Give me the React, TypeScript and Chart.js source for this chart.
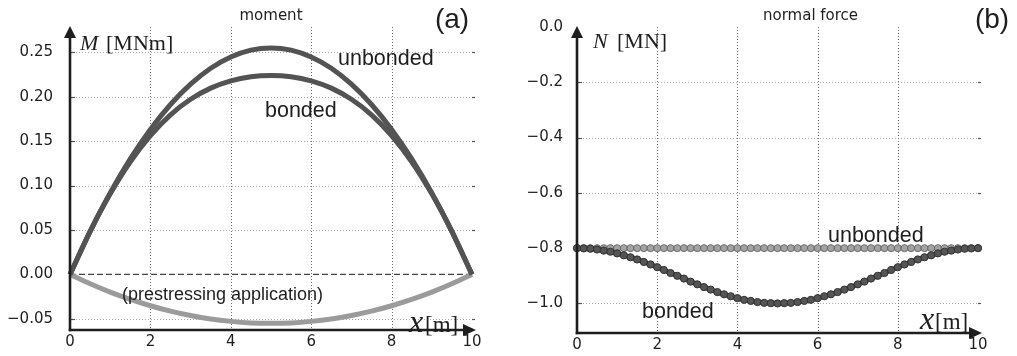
import React, { useEffect, useRef } from "react";
import { Chart, registerables } from "chart.js";

Chart.register(...registerables);

// ---------- data: moment panel (a) ----------
const momentX = [0, 0.5, 1, 1.5, 2, 2.5, 3, 3.5, 4, 4.5, 5, 5.5, 6, 6.5, 7, 7.5, 8, 8.5, 9, 9.5, 10];
const momentUnbonded = [0, 0.0485, 0.0918, 0.1301, 0.1632, 0.1913, 0.2142, 0.2321, 0.2448, 0.2525, 0.255, 0.2525, 0.2448, 0.2321, 0.2142, 0.1913, 0.1632, 0.1301, 0.0918, 0.0485, 0];
const momentBonded = [0, 0.0483, 0.0907, 0.1268, 0.1563, 0.1797, 0.1972, 0.2097, 0.2179, 0.2226, 0.224, 0.2226, 0.2179, 0.2097, 0.1972, 0.1797, 0.1563, 0.1268, 0.0907, 0.0483, 0];
const momentPrestress = [0, -0.0105, -0.0198, -0.0281, -0.0352, -0.0413, -0.0462, -0.0501, -0.0528, -0.0545, -0.055, -0.0545, -0.0528, -0.0501, -0.0462, -0.0413, -0.0352, -0.0281, -0.0198, -0.0105, 0];
const zeroLineX = [0, 10];
const zeroLineY = [0, 0];
const momentTicks = [-0.05, 0, 0.05, 0.1, 0.15, 0.2, 0.25];

// ---------- data: normal force panel (b) ----------
const forceX = [0, 0.167, 0.333, 0.5, 0.667, 0.833, 1, 1.167, 1.333, 1.5, 1.667, 1.833, 2, 2.167, 2.333, 2.5, 2.667, 2.833, 3, 3.167, 3.333, 3.5, 3.667, 3.833, 4, 4.167, 4.333, 4.5, 4.667, 4.833, 5, 5.167, 5.333, 5.5, 5.667, 5.833, 6, 6.167, 6.333, 6.5, 6.667, 6.833, 7, 7.167, 7.333, 7.5, 7.667, 7.833, 8, 8.167, 8.333, 8.5, 8.667, 8.833, 9, 9.167, 9.333, 9.5, 9.667, 9.833, 10];
const forceUnbonded = [-0.8, -0.8, -0.8, -0.8, -0.8, -0.8, -0.8, -0.8, -0.8, -0.8, -0.8, -0.8, -0.8, -0.8, -0.8, -0.8, -0.8, -0.8, -0.8, -0.8, -0.8, -0.8, -0.8, -0.8, -0.8, -0.8, -0.8, -0.8, -0.8, -0.8, -0.8, -0.8, -0.8, -0.8, -0.8, -0.8, -0.8, -0.8, -0.8, -0.8, -0.8, -0.8, -0.8, -0.8, -0.8, -0.8, -0.8, -0.8, -0.8, -0.8, -0.8, -0.8, -0.8, -0.8, -0.8, -0.8, -0.8, -0.8, -0.8, -0.8, -0.8];
const forceBonded = [-0.8, -0.801, -0.802, -0.805, -0.809, -0.813, -0.819, -0.826, -0.833, -0.841, -0.85, -0.859, -0.869, -0.879, -0.89, -0.9, -0.91, -0.921, -0.931, -0.941, -0.95, -0.959, -0.967, -0.974, -0.981, -0.987, -0.991, -0.995, -0.998, -0.999, -1.0, -0.999, -0.998, -0.995, -0.991, -0.987, -0.981, -0.974, -0.967, -0.959, -0.95, -0.941, -0.931, -0.921, -0.91, -0.9, -0.89, -0.879, -0.869, -0.859, -0.85, -0.841, -0.833, -0.826, -0.819, -0.813, -0.809, -0.805, -0.802, -0.801, -0.8];
const forceTicks = [-1.0, -0.8, -0.6, -0.4, -0.2, 0.0];

const xTicks = [0, 2, 4, 6, 8, 10];

const SANS = "'DejaVu Sans', sans-serif";
const ANNOT = "'Liberation Sans', Arial, sans-serif";
const SERIF = "'Liberation Serif', 'Times New Roman', serif";

const pts = (xs: number[], ys: number[]) => xs.map((x, i) => ({ x, y: ys[i] }));

type TextItem = { s: string; x: number; y: number; font: string; align?: CanvasTextAlign; color?: string };

function makeDecor(opts: { gridY: number[]; gridX: number[]; texts: TextItem[]; arrowExtra: number }) {
  return {
    id: "decor",
    beforeDatasetsDraw(chart: any) {
      const { ctx, chartArea: a, scales } = chart;
      const x = scales.x;
      const y = scales.y;
      ctx.save();
      ctx.lineWidth = 1;
      ctx.setLineDash([1, 2]);
      ctx.strokeStyle = "#a8a8a8";
      for (const v of opts.gridY) {
        const py = Math.round(y.getPixelForValue(v)) + 0.5;
        ctx.beginPath();
        ctx.moveTo(a.left, py);
        ctx.lineTo(a.right, py);
        ctx.stroke();
      }
      ctx.strokeStyle = "#6e6e6e";
      for (const v of opts.gridX) {
        const px = Math.round(x.getPixelForValue(v)) + 0.5;
        ctx.beginPath();
        ctx.moveTo(px, a.top);
        ctx.lineTo(px, a.bottom);
        ctx.stroke();
      }
      ctx.setLineDash([]);
      // small ticks
      ctx.strokeStyle = "#555";
      ctx.lineWidth = 1.2;
      for (const v of opts.gridY) {
        const py = Math.round(y.getPixelForValue(v)) + 0.5;
        ctx.beginPath();
        ctx.moveTo(a.right, py);
        ctx.lineTo(a.right + 3, py);
        ctx.stroke();
        ctx.beginPath();
        ctx.moveTo(a.left, py);
        ctx.lineTo(a.left + 5, py);
        ctx.stroke();
      }
      ctx.restore();
    },
    afterDatasetsDraw(chart: any) {
      const { ctx, chartArea: a } = chart;
      ctx.save();
      ctx.strokeStyle = "#1e1e1e";
      ctx.fillStyle = "#1e1e1e";
      ctx.lineWidth = 2.6;
      // y axis
      ctx.beginPath();
      ctx.moveTo(a.left, a.bottom + 1.3);
      ctx.lineTo(a.left, a.top + 8);
      ctx.stroke();
      ctx.beginPath();
      ctx.moveTo(a.left, a.top - 1);
      ctx.lineTo(a.left - 6, a.top + 11);
      ctx.lineTo(a.left + 6, a.top + 11);
      ctx.closePath();
      ctx.fill();
      // x axis
      const tip = a.right + opts.arrowExtra;
      ctx.beginPath();
      ctx.moveTo(a.left - 1.3, a.bottom);
      ctx.lineTo(tip - 8, a.bottom);
      ctx.stroke();
      ctx.beginPath();
      ctx.moveTo(tip, a.bottom);
      ctx.lineTo(tip - 13, a.bottom - 6);
      ctx.lineTo(tip - 13, a.bottom + 6);
      ctx.closePath();
      ctx.fill();
      // texts
      ctx.textBaseline = "alphabetic";
      for (const t of opts.texts) {
        ctx.font = t.font;
        ctx.fillStyle = t.color || "#1e1e1e";
        ctx.textAlign = t.align || "left";
        ctx.fillText(t.s, t.x, t.y);
      }
      ctx.restore();
    },
  };
}

function makeConfig(p: {
  datasets: any[];
  yMin: number;
  yMax: number;
  yTicks: number[];
  decimals: number;
  yWidth: number;
  yPad: number;
  padRight: number;
  decor: any;
}) {
  return {
    type: "line" as const,
    data: { datasets: p.datasets },
    options: {
      responsive: false,
      animation: false as const,
      events: [],
      layout: { padding: { left: 0, right: p.padRight, top: 27, bottom: 0 } },
      plugins: { legend: { display: false }, tooltip: { enabled: false }, title: { display: false } },
      scales: {
        x: {
          type: "linear" as const,
          min: 0,
          max: 10,
          grid: { display: false, drawTicks: false },
          border: { display: false },
          afterBuildTicks: (s: any) => {
            s.ticks = xTicks.map((v) => ({ value: v }));
          },
          afterFit: (s: any) => {
            s.height = 18;
          },
          ticks: {
            padding: 3,
            maxRotation: 0,
            autoSkip: false,
            color: "#1e1e1e",
            font: { family: SANS, size: 15 },
            callback: (v: any) => String(v),
          },
        },
        y: {
          type: "linear" as const,
          min: p.yMin,
          max: p.yMax,
          grid: { display: false, drawTicks: false },
          border: { display: false },
          afterBuildTicks: (s: any) => {
            s.ticks = p.yTicks.map((v) => ({ value: v }));
          },
          afterFit: (s: any) => {
            s.width = p.yWidth;
          },
          ticks: {
            padding: p.yPad,
            autoSkip: false,
            color: "#1e1e1e",
            font: { family: SANS, size: 15 },
            callback: (v: any) => {
              const n = Number(v);
              const r = Math.abs(n) < 1e-9 ? 0 : n;
              return (r < 0 ? "\u2212" : "") + Math.abs(r).toFixed(p.decimals);
            },
          },
        },
      },
    },
    plugins: [p.decor],
  };
}

export default function App() {
  const leftRef = useRef<HTMLCanvasElement>(null);
  const rightRef = useRef<HTMLCanvasElement>(null);

  useEffect(() => {
    const dark = "#535353";
    const leftCfg = makeConfig({
      datasets: [
        {
          data: pts(momentX, momentUnbonded),
          borderColor: dark,
          borderWidth: 5,
          pointRadius: 0,
          cubicInterpolationMode: "monotone",
          order: 1,
          clip: false,
        },
        {
          data: pts(momentX, momentBonded),
          borderColor: dark,
          borderWidth: 5,
          pointRadius: 0,
          cubicInterpolationMode: "monotone",
          order: 2,
          clip: false,
        },
        {
          data: pts(momentX, momentPrestress),
          borderColor: "#9b9b9b",
          borderWidth: 5,
          pointRadius: 0,
          cubicInterpolationMode: "monotone",
          order: 3,
          clip: false,
        },
        {
          data: pts(zeroLineX, zeroLineY),
          borderColor: "#444",
          borderWidth: 1.3,
          borderDash: [6, 3],
          pointRadius: 0,
          order: 4,
          clip: false,
        },
      ],
      yMin: -0.0625,
      yMax: 0.2785,
      yTicks: momentTicks,
      decimals: 2,
      yWidth: 70,
      yPad: 17,
      padRight: 48,
      decor: makeDecor({
        gridY: momentTicks.filter((v) => v !== 0),
        gridX: [2, 4, 6, 8],
        arrowExtra: 4,
        texts: [
          { s: "moment", x: 271, y: 20, font: `15px ${SANS}`, align: "center" },
          { s: "(a)", x: 452, y: 28, font: `28px ${ANNOT}`, align: "center" },
          { s: "unbonded", x: 338, y: 65, font: `21.5px ${ANNOT}` },
          { s: "bonded", x: 265, y: 117, font: `21.5px ${ANNOT}` },
          { s: "(prestressing application)", x: 122, y: 300, font: `18px ${ANNOT}` },
          { s: "M", x: 80, y: 50, font: `italic 22px ${SERIF}` },
          { s: "[MNm]", x: 106, y: 50, font: `22px ${SERIF}` },
          { s: "x", x: 409, y: 332, font: `italic 32px ${SERIF}` },
          { s: "[m]", x: 425, y: 332, font: `23px ${SERIF}` },
        ],
      }),
    });

    const off = 520;
    const rightCfg = makeConfig({
      datasets: [
        {
          data: pts(forceX, forceBonded),
          borderColor: "#4d4d4d",
          borderWidth: 5,
          pointRadius: 3.6,
          pointBackgroundColor: "#555555",
          pointBorderColor: "#333333",
          pointBorderWidth: 1,
          cubicInterpolationMode: "monotone",
          order: 1,
          clip: false,
        },
        {
          data: pts(forceX, forceUnbonded),
          borderColor: "#9a9a9a",
          borderWidth: 3.5,
          pointRadius: 3.5,
          pointBackgroundColor: "#a3a3a3",
          pointBorderColor: "#6a6a6a",
          pointBorderWidth: 1,
          order: 2,
          clip: false,
        },
      ],
      yMin: -1.107,
      yMax: 0,
      yTicks: forceTicks,
      decimals: 1,
      yWidth: 57,
      yPad: 14,
      padRight: 39,
      decor: makeDecor({
        gridY: forceTicks.filter((v) => v !== 0),
        gridX: [2, 4, 6, 8],
        arrowExtra: 4,
        texts: [
          { s: "normal force", x: 763 - off, y: 20, font: `15px ${SANS}` },
          { s: "(b)", x: 992 - off, y: 28, font: `28px ${ANNOT}`, align: "center" },
          { s: "unbonded", x: 828 - off, y: 242, font: `21.5px ${ANNOT}` },
          { s: "bonded", x: 642 - off, y: 318, font: `21.5px ${ANNOT}` },
          { s: "N", x: 593 - off, y: 48, font: `italic 22px ${SERIF}` },
          { s: "[MN]", x: 617 - off, y: 48, font: `22px ${SERIF}` },
          { s: "x", x: 920 - off, y: 329, font: `italic 32px ${SERIF}` },
          { s: "[m]", x: 935 - off, y: 329, font: `23px ${SERIF}` },
        ],
      }),
    });

    const c1 = new Chart(leftRef.current as HTMLCanvasElement, leftCfg as any);
    const c2 = new Chart(rightRef.current as HTMLCanvasElement, rightCfg as any);
    return () => {
      c1.destroy();
      c2.destroy();
    };
  }, []);

  return (
    <div style={{ position: "absolute", left: 0, top: 0, width: 1017, height: 356, background: "#ffffff" }}>
      <canvas
        ref={leftRef}
        width={520}
        height={356}
        style={{ position: "absolute", left: 0, top: 0, width: 520, height: 356 }}
      />
      <canvas
        ref={rightRef}
        width={497}
        height={356}
        style={{ position: "absolute", left: 520, top: 0, width: 497, height: 356 }}
      />
    </div>
  );
}
